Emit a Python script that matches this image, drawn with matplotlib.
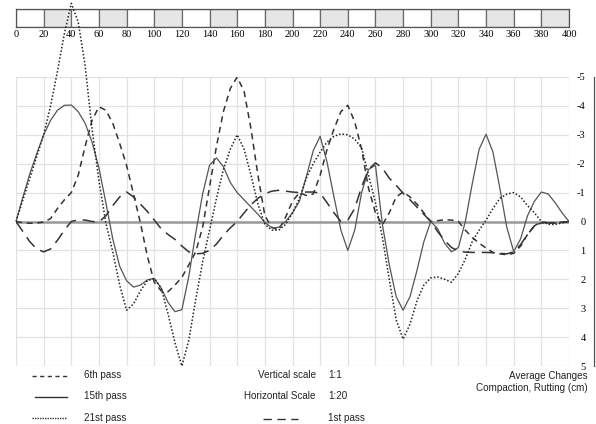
import matplotlib
matplotlib.use("Agg")
import matplotlib.pyplot as plt
from matplotlib.lines import Line2D

# distance along the track (0 .. 400, every 5)
distance = list(range(0, 405, 5))

# average change, compaction / rutting (cm); negative = up
pass_6th = [
    0, 0.04, 0.06, 0.05, 0.02, -0.1, -0.45, -0.75, -1.0, -1.6,
    -2.6, -3.5, -3.97, -3.85, -3.4, -2.7, -1.94, -0.95, 0.05, 1.2,
    2.1, 2.4, 2.43, 2.2, 1.93, 1.5, 1.05, 0.2, -1.2, -2.6,
    -3.8, -4.6, -5.0, -4.5, -3.2, -1.6, -0.2, 0.2, 0.3, -0.15,
    -0.7, -1.0, -0.9, -0.95, -1.6, -2.5, -3.2, -3.8, -4.02, -3.45,
    -2.5, -1.15, -0.3, 0.12, -0.3, -0.85, -1.02, -0.85, -0.6, -0.3,
    0.0, -0.03, -0.06, -0.05, 0.0, 0.3, 0.55, 0.75, 0.92, 1.07,
    1.12, 1.15, 1.1, 0.85, 0.45, 0.15, 0.05, 0.05, 0.05, 0.02,
    0,
]

pass_15th = [
    0, -0.85, -1.65, -2.35, -3.0, -3.5, -3.85, -4.02, -4.03, -3.8,
    -3.4, -2.75, -1.85, -0.65, 0.6, 1.55, 2.05, 2.27, 2.2, 2.02,
    1.97, 2.3, 2.8, 3.12, 3.05, 1.9, 0.4, -0.95, -1.95, -2.2,
    -1.9, -1.35, -1.0, -0.75, -0.5, -0.25, 0.03, 0.22, 0.2, 0.0,
    -0.3, -0.7, -1.55, -2.45, -2.95, -2.05, -0.85, 0.3, 1.0, 0.3,
    -1.0, -1.8, -1.95, 0.1, 1.5, 2.6, 3.07, 2.6, 1.7, 0.7,
    0.0, 0.25, 0.75, 1.05, 0.9, 0.0, -1.3, -2.5, -3.02, -2.4,
    -1.15, 0.2, 1.04, 0.6, -0.2, -0.7, -1.02, -0.95, -0.65, -0.3,
    0,
]

pass_21st = [
    0, -0.75, -1.5, -2.25, -3.0, -4.0, -5.2, -6.5, -7.55, -6.9,
    -5.4, -3.2, -1.4, 0.05, 1.05, 2.2, 3.07, 2.85, 2.4, 2.05,
    1.97, 2.3, 3.2, 4.2, 5.0, 4.1, 2.7, 1.4, 0.3, -0.8,
    -1.8, -2.5, -3.0, -2.5, -1.6, -0.6, 0.1, 0.3, 0.3, 0.1,
    -0.3, -0.8, -1.5, -2.0, -2.4, -2.75, -2.95, -3.03, -3.0, -2.85,
    -2.55, -1.6, -0.65, 0.55, 2.0, 3.4, 4.07, 3.55, 2.75, 2.2,
    1.95, 1.92, 2.0, 2.1, 1.8, 1.3, 0.7, 0.3, -0.05, -0.45,
    -0.8, -0.95, -1.0, -0.85, -0.55, -0.3, 0.0, 0.1, 0.1, 0.05,
    0,
]

pass_1st = [
    0, 0.35, 0.7, 0.95, 1.05, 0.95, 0.65, 0.3, 0.0, -0.06,
    -0.05, 0.0, 0.02, -0.2, -0.55, -0.85, -1.02, -0.85, -0.6, -0.35,
    -0.05, 0.25, 0.45, 0.62, 0.85, 1.05, 1.12, 1.1, 1.0, 0.78,
    0.48, 0.22, 0.0, -0.3, -0.58, -0.8, -0.96, -1.05, -1.08, -1.05,
    -1.02, -1.0, -1.02, -1.02, -0.98, -0.65, -0.3, 0.0, -0.05, -0.45,
    -1.2, -1.8, -2.03, -1.85, -1.5, -1.25, -0.98, -0.75, -0.5, -0.25,
    0.0, 0.35, 0.65, 0.9, 1.02, 1.06, 1.07, 1.07, 1.07, 1.08,
    1.1, 1.12, 1.05, 0.8, 0.45, 0.15, 0.0, 0.05, 0.05, 0.03,
    0,
]

scale_ticks = list(range(0, 420, 20))
depth_ticks = [-5, -4, -3, -2, -1, 0, 1, 2, 3, 4, 5]

fig = plt.figure(figsize=(5.96, 4.24), dpi=100)
fig.patch.set_facecolor("white")

# ---- distance bar at the top ----
bar_ax = fig.add_axes([16 / 596, 1 - 27 / 424, 553 / 596, 18 / 424])
bar_ax.set_zorder(1)
bar_colors = ["white" if i % 2 == 0 else "#e6e6e6" for i in range(20)]
bar_ax.bar(scale_ticks[:-1], [1] * 20, width=20, align="edge",
           color=bar_colors, edgecolor="#6a6a6a", linewidth=0.9)
bar_ax.set_xlim(0, 400)
bar_ax.set_ylim(0, 1)
bar_ax.set_yticks([])
bar_ax.set_xticks(scale_ticks)
bar_ax.set_xticklabels([str(t) for t in scale_ticks],
                       fontfamily="Liberation Serif", fontsize=7.5)
bar_ax.tick_params(axis="x", length=0, pad=2)
for spine in bar_ax.spines.values():
    spine.set_color("#555555")
    spine.set_linewidth(0.9)

# ---- main profile plot ----
ax = fig.add_axes([16 / 596, 1 - 366 / 424, 553 / 596, 289 / 424])
ax.set_zorder(2)
ax.patch.set_alpha(0)

ax.set_xlim(0, 400)
ax.set_ylim(5, -5)
ax.set_xticks(scale_ticks)
ax.set_xticklabels([])
ax.set_yticks(depth_ticks)
ax.set_yticklabels([str(t) for t in depth_ticks],
                   fontfamily="Liberation Serif", fontsize=7.5,
                   ha="right")
ax.yaxis.tick_right()
ax.tick_params(axis="both", length=0)
ax.tick_params(axis="y", pad=12)
ax.grid(True, color="#e2e2e2", linewidth=0.9)
ax.set_axisbelow(True)
for spine in ax.spines.values():
    spine.set_visible(False)

ax.axhline(0, color="#999999", linewidth=1.8, zorder=1.5)

ax.plot(distance, pass_6th, color="#333333", linewidth=1.1,
        linestyle=(0, (4, 3)))
ax.plot(distance, pass_15th, color="#555555", linewidth=0.9,
        linestyle="-")
ax.plot(distance, pass_21st, color="#222222", linewidth=1.1,
        linestyle=(0, (1, 1.3)), clip_on=False)
ax.plot(distance, pass_1st, color="#333333", linewidth=1.1,
        linestyle=(0, (8, 4.5)))

# right-hand border line
fig.add_artist(Line2D([594 / 596, 594 / 596], [1 - 77 / 424, 1 - 366 / 424],
                      color="#555555", linewidth=0.9))

# ---- legend / notes ----
def fig_xy(px, py):
    return px / 596, 1 - py / 424


def legend_sample(x0, x1, py, style, color):
    (a, b), (c, d) = fig_xy(x0, py), fig_xy(x1, py)
    fig.add_artist(Line2D([a, c], [b, d], color=color, linewidth=1.0,
                          linestyle=style))


text_style = dict(fontfamily="Liberation Sans", fontsize=7.1,
                  color="#222222", va="center")

legend_sample(32, 67, 376, (0, (3, 2.5)), "#333333")
legend_sample(35, 67, 397, "-", "#333333")
legend_sample(32, 67, 418, (0, (1, 0.8)), "#333333")
legend_sample(263, 298, 419, (0, (6, 4)), "#333333")

fig.text(*fig_xy(84, 375), "6th pass", **text_style)
fig.text(*fig_xy(84, 396), "15th pass", **text_style)
fig.text(*fig_xy(84, 418), "21st pass", **text_style)
fig.text(*fig_xy(328, 418), "1st pass", **text_style)

fig.text(*fig_xy(316, 375), "Vertical scale", ha="right", **text_style)
fig.text(*fig_xy(328, 375), "1:1", **text_style)
fig.text(*fig_xy(316, 396), "Horizontal Scale", ha="right", **text_style)
fig.text(*fig_xy(328, 396), "1:20", **text_style)

fig.text(*fig_xy(588, 376), "Average Changes", ha="right", **text_style)
fig.text(*fig_xy(588, 388), "Compaction, Rutting (cm)", ha="right",
         **text_style)

fig.savefig("out.png", dpi=100)
plt.close(fig)
